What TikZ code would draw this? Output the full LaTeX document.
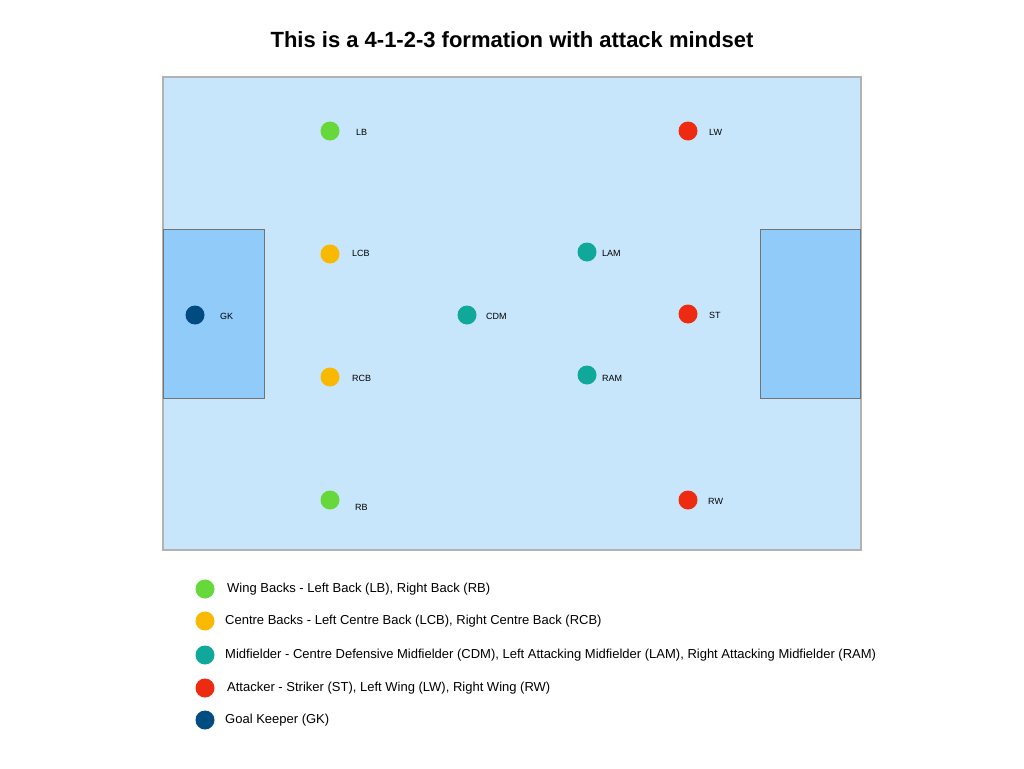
\documentclass[tikz,border=0pt]{standalone}
\usepackage{fontspec}
\setmainfont{Liberation Sans}
\definecolor{field}{HTML}{C8E6FB}
\definecolor{goal}{HTML}{90CBFA}
\definecolor{cgreen}{HTML}{66D83A}
\definecolor{cyellow}{HTML}{F9B900}
\definecolor{cteal}{HTML}{0FA89A}
\definecolor{cred}{HTML}{EE2A10}
\definecolor{cnavy}{HTML}{004C80}
\begin{document}
\begin{tikzpicture}[x=1pt,y=-1pt,
  dot/.style={circle,inner sep=0pt,minimum size=19pt},
  lab/.style={font=\fontsize{9}{10}\selectfont,anchor=west,inner sep=0pt},
  leg/.style={font=\fontsize{13}{15}\selectfont,anchor=west,inner sep=0pt}]
\useasboundingbox (0,0) rectangle (1024,768);
\node[font=\fontsize{22}{26}\selectfont\bfseries] (title) at (512,40) {This is a 4-1-2-3 formation with attack mindset};
\draw[fill=field,draw=black!30,line width=1.5pt] (163,77) rectangle (861,550);
\draw[fill=goal,draw=black!55,line width=1pt] (163,229) rectangle (264,398);
\draw[fill=goal,draw=black!55,line width=1pt] (760,229) rectangle (860,398);
\foreach \n/\x/\y/\c/\lx/\ly in {LB/330/131/cgreen/356/132, LW/688/131/cred/709/132,
  LCB/330/254/cyellow/352/253, LAM/587/252/cteal/602/253, GK/195/315/cnavy/220/316,
  CDM/467/315/cteal/486/316, ST/688/314/cred/709/315, RCB/330/377/cyellow/352/378,
  RAM/587/375/cteal/602/378, RB/330/500/cgreen/355/507, RW/688/500/cred/708/501}{
  \node[dot,fill=\c] (p\n) at (\x,\y) {};
  \node[lab] (l\n) at (\lx,\ly) {\n};
}
\foreach \i/\y/\c/\tx/\t in {1/589/cgreen/227/{Wing Backs - Left Back (LB), Right Back (RB)},
  2/621/cyellow/225/{Centre Backs - Left Centre Back (LCB), Right Centre Back (RCB)},
  3/655/cteal/225/{Midfielder - Centre Defensive Midfielder (CDM), Left Attacking Midfielder (LAM), Right Attacking Midfielder (RAM)},
  4/688/cred/227/{Attacker - Striker (ST), Left Wing (LW), Right Wing (RW)},
  5/720/cnavy/225/{Goal Keeper (GK)}}{
  \node[dot,fill=\c] (d\i) at (205,\y) {};
  \node[leg] (t\i) at (\tx,\y) {\t};
}
\end{tikzpicture}
\end{document}
